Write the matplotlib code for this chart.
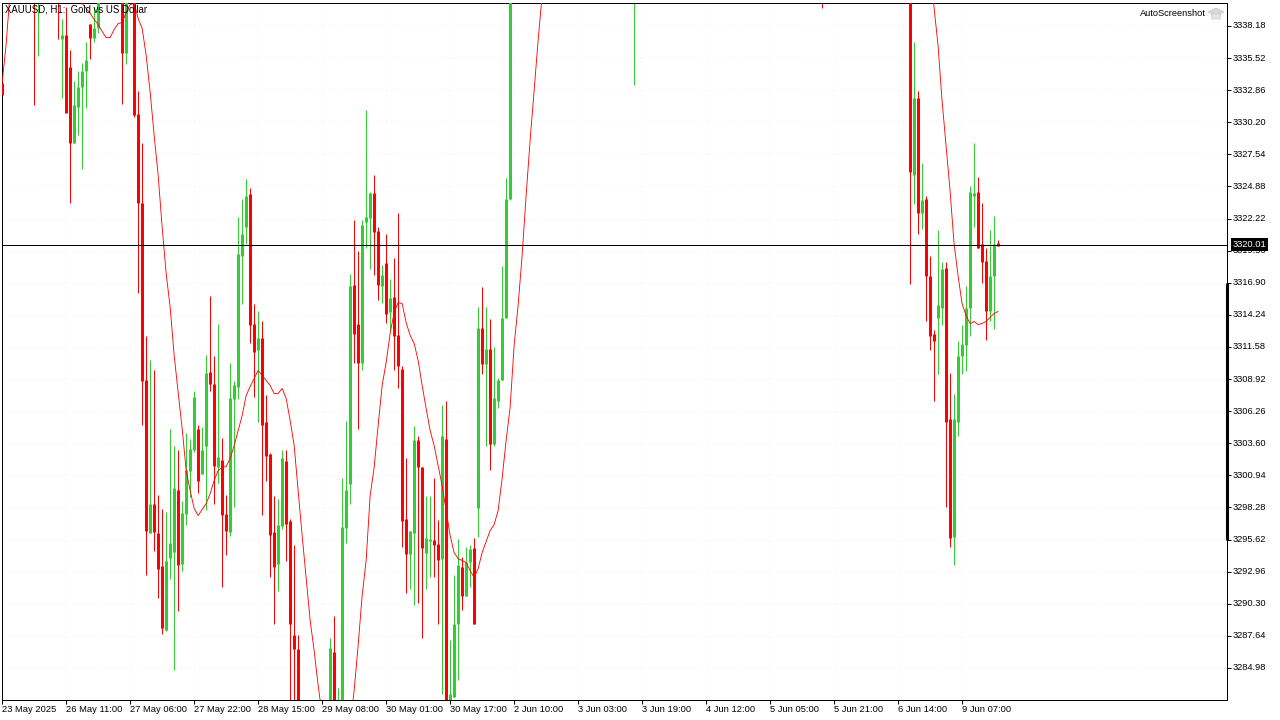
import matplotlib
matplotlib.use("Agg")
import matplotlib.pyplot as plt
from matplotlib.patches import Polygon
from matplotlib.transforms import ScaledTranslation

title_text = "XAUUSD, H1:  Gold vs US Dollar"
brand_text = "AutoScreenshot"
last_price = 3320.01

price_ticks = [3338.18, 3335.52, 3332.86, 3330.20, 3327.54, 3324.88, 3322.22, 3319.56, 3316.90, 3314.24,
               3311.58, 3308.92, 3306.26, 3303.60, 3300.94, 3298.28, 3295.62, 3292.96, 3290.30, 3287.64, 3284.98]
time_labels = ["23 May 2025", "26 May 11:00", "27 May 06:00", "27 May 22:00", "28 May 15:00", "29 May 08:00",
               "30 May 01:00", "30 May 17:00", "2 Jun 10:00", "3 Jun 03:00", "3 Jun 19:00", "4 Jun 12:00",
               "5 Jun 05:00", "5 Jun 21:00", "6 Jun 14:00", "9 Jun 07:00"]
bars_per_label = 16
scale_bar = [3316.90, 3295.62]

candle_index = [0, 8, 9, 14] + list(range(15, 25)) + [30, 31] + list(range(33, 75)) + list(range(82, 128)) + [158, 205] + list(range(227, 250))

opens = [3333.49, 3343, 3341, 3342,
  3337.14, 3337.39, 3334.82, 3328.52, 3331.50, 3333.16, 3334.41, 3338.38, 3337.22, 3337.97,
  3342, 3335.98,
  3342, 3330.92, 3323.55, 3308.80, 3296.20, 3298.60, 3296.20, 3293.46, 3288.16, 3294.12,
  3294.62, 3299.76, 3293.63, 3297.77, 3301.34, 3303.08, 3304.82, 3301.01, 3303.41, 3309.54,
  3308.47, 3301.59, 3302.25, 3297.77, 3296.28, 3307.23, 3308.30, 3319.08, 3321.56, 3324.22,
  3313.52, 3311.29, 3312.28, 3305.40, 3302.67, 3296.28, 3293.63, 3296.78, 3302.09, 3297.19,
  3287.75, 3286.59,
  3281, 3286.34, 3279.5, 3281, 3296.61, 3300.26, 3316.73, 3313.52, 3310.29, 3321.90,
  3322.23, 3324.30, 3321.15, 3316.65, 3318.50, 3314.44, 3315.76, 3312.54, 3309.79, 3297.36,
  3294.46, 3296.20, 3303.83, 3301.67, 3294.54, 3295.54, 3295.62, 3295.29, 3294.04, 3303.99,
  3280, 3282.61, 3288.58, 3293.38, 3290.90, 3293.79, 3294.96, 3298.27, 3313.11, 3310.13,
  3311.37, 3303.50, 3307.14, 3308.80, 3313.94, 3323.80,
  3342, 3343,
  3342, 3325.86, 3332.25, 3322.72, 3323.80, 3317.50, 3312.67, 3314.02, 3314.77, 3318.16,
  3305.65, 3295.87, 3305.40, 3310.87, 3311.70, 3314.77, 3324.13, 3324.46, 3320.07, 3318.74,
  3314.60, 3317.42, 3320.23]

closes = [3332.42, 3341, 3343, 3341,
  3337.39, 3331.00, 3328.52, 3331.59, 3333.16, 3334.41, 3335.32, 3337.22, 3337.97, 3341,
  3335.90, 3342,
  3330.84, 3323.47, 3308.72, 3296.36, 3298.60, 3296.28, 3293.21, 3288.33, 3293.88, 3295.37,
  3299.93, 3293.55, 3297.86, 3301.42, 3303.16, 3307.47, 3300.51, 3303.08, 3309.46, 3308.47,
  3301.75, 3302.42, 3297.69, 3296.36, 3307.31, 3308.39, 3319.32, 3320.90, 3324.13, 3313.36,
  3311.12, 3312.28, 3305.15, 3302.58, 3296.03, 3293.38, 3296.86, 3302.34, 3296.94, 3288.58,
  3286.59, 3280,
  3286.67, 3281, 3281, 3296.70, 3299.76, 3316.65, 3312.67, 3310.29, 3321.65, 3322.31,
  3324.30, 3321.07, 3316.73, 3317.58, 3314.27, 3315.60, 3312.45, 3310.04, 3297.19, 3294.46,
  3296.36, 3303.91, 3301.67, 3294.96, 3295.78, 3295.70, 3295.20, 3293.96, 3304.16, 3280,
  3282.78, 3288.66, 3293.55, 3290.90, 3293.72, 3294.87, 3288.66, 3313.11, 3310.13, 3311.37,
  3303.50, 3307.31, 3308.80, 3313.94, 3323.80, 3342,
  3343, 3342,
  3326.11, 3332.25, 3322.72, 3323.72, 3317.42, 3312.45, 3312.11, 3315.02, 3318.08, 3305.40,
  3295.78, 3305.57, 3310.87, 3311.79, 3314.77, 3324.46, 3324.30, 3319.74, 3318.58, 3314.52,
  3317.42, 3320.07, 3319.98]

highs = [3342, 3343.5, 3343.5, 3343,
  3338.72, 3339.71, 3336.15, 3333.58, 3334.41, 3335.07, 3336.89, 3338.38, 3339.79, 3344,
  3344, 3344,
  3344, 3332.75, 3328.44, 3312.45, 3310.46, 3309.63, 3299.35, 3298.19, 3297.94, 3304.74,
  3303.33, 3303.08, 3298.85, 3304.41, 3303.99, 3307.97, 3305.15, 3304.98, 3310.95, 3315.84,
  3310.87, 3313.52, 3304.07, 3299.35, 3310.29, 3308.72, 3322.39, 3323.80, 3325.46, 3324.79,
  3315.18, 3314.60, 3313.69, 3307.56, 3302.75, 3299.26, 3299.02, 3303.00, 3303.08, 3297.36,
  3295.20, 3287.75,
  3287.50, 3289.32, 3283.28, 3300.76, 3305.48, 3317.64, 3322.06, 3319.49, 3322.06, 3331.25,
  3324.46, 3325.79, 3321.48, 3318.33, 3320.98, 3317.25, 3318.91, 3322.72, 3309.96, 3302.34,
  3296.36, 3305.07, 3304.24, 3301.67, 3299.26, 3299.26, 3300.68, 3297.28, 3306.81, 3307.14,
  3287.33, 3292.72, 3295.70, 3294.21, 3295.04, 3295.20, 3295.78, 3314.93, 3316.57, 3314.93,
  3313.86, 3311.54, 3308.97, 3318.25, 3325.62, 3344,
  3344, 3344,
  3344, 3336.81, 3332.75, 3326.86, 3324.05, 3319.08, 3312.99, 3321.23, 3318.58, 3318.66,
  3309.38, 3307.64, 3312.04, 3313.44, 3316.59, 3324.88, 3328.44, 3325.70, 3323.47, 3319.74,
  3321.31, 3322.47, 3320.48]

lows = [3332.42, 3331.59, 3335.65, 3337.06,
  3332.17, 3331.09, 3323.47, 3328.52, 3329.18, 3326.36, 3331.42, 3335.48, 3336.81, 3337.56,
  3331.75, 3334.99,
  3330.67, 3316.01, 3305.15, 3292.64, 3296.20, 3294.71, 3290.81, 3287.83, 3288.00, 3292.31,
  3284.84, 3289.66, 3293.05, 3296.86, 3299.18, 3302.91, 3299.51, 3301.01, 3298.10, 3307.97,
  3298.60, 3300.34, 3291.65, 3294.37, 3295.95, 3298.35, 3307.23, 3315.18, 3320.15, 3311.87,
  3307.47, 3305.32, 3297.69, 3300.43, 3292.55, 3288.58, 3291.32, 3296.53, 3293.88, 3279,
  3279, 3279,
  3279, 3279, 3279, 3279, 3295.37, 3298.60, 3310.29, 3304.74, 3309.71, 3319.74,
  3318.08, 3317.58, 3315.51, 3315.26, 3313.60, 3312.87, 3309.63, 3308.14, 3295.03, 3291.23,
  3291.56, 3290.23, 3290.40, 3287.50, 3291.56, 3292.55, 3292.55, 3288.66, 3282.78, 3279,
  3279, 3282.61, 3284.02, 3289.74, 3290.90, 3291.65, 3288.66, 3295.87, 3309.30, 3303.33,
  3301.42, 3303.33, 3306.48, 3308.80, 3313.94, 3323.72,
  3333.25, 3339.63,
  3316.76, 3323.39, 3320.98, 3321.39, 3313.69, 3311.29, 3307.06, 3309.30, 3313.36, 3298.35,
  3295.03, 3293.55, 3304.24, 3309.30, 3309.55, 3312.45, 3321.56, 3319.74, 3316.85, 3312.12,
  3313.69, 3313.03, 3319.98]

ma_index = [0, 1, 2, 3, 18] + list(range(19, 137)) + list(range(232, 250))
ma_values = [3333.49, 3336.73, 3341.10, 3341.50, 3341.50,
  3340.40, 3340.04, 3339.63, 3339.21, 3338.72, 3338.30, 3337.72, 3337.22, 3337.22, 3337.89,
  3338.38, 3338.47, 3339.30, 3339.96, 3340.04, 3338.80, 3337.97, 3335.73, 3332.67, 3329.10,
  3325.79, 3321.48, 3317.66, 3314.85, 3310.87, 3307.80, 3304.82, 3301.34, 3299.68, 3298.19,
  3297.61, 3298.10, 3298.60, 3299.43, 3300.51, 3301.34, 3301.59, 3301.67, 3302.34, 3303.41,
  3304.66, 3305.90, 3307.56, 3308.30, 3308.97, 3309.63, 3309.22, 3308.80, 3308.39, 3307.72,
  3307.72, 3308.14, 3307.31, 3305.48, 3303.41, 3299.68, 3295.95, 3292.39, 3288.91, 3286.42,
  3283.53, 3281.04, 3279, 3279, 3279, 3279, 3279, 3279, 3280.20, 3283.11,
  3286.84, 3290.98, 3293.88, 3299.26, 3301.59, 3305.07, 3308.39, 3310.29, 3312.70, 3314.44,
  3315.26, 3315.18, 3313.60, 3312.54, 3311.87, 3310.46, 3308.39, 3306.48, 3304.66, 3303.41,
  3301.75, 3300.09, 3298.02, 3295.95, 3294.54, 3294.04, 3293.88, 3293.72, 3293.05, 3292.47,
  3293.21, 3294.54, 3295.45, 3296.36, 3296.86, 3298.02, 3300.68, 3303.83, 3306.56, 3311.70,
  3315.02, 3319.16, 3324.13, 3328.69, 3332.83, 3336.98, 3340.70, 3343,
  3343, 3339.71, 3336.56, 3332.00, 3328.27, 3324.55, 3320.15, 3317.50, 3315.18, 3314.19,
  3313.52, 3313.69, 3313.44, 3313.52, 3313.69, 3314.02, 3314.35, 3314.52]

UP = "#32CD32"
DOWN = "#FF0000"
FONT = "Liberation Sans"
W, H = 1280, 720

fig = plt.figure(figsize=(W / 100, H / 100), dpi=100, facecolor="white")
L, R, T, B = 2.2, 1227.2, 3.0, 700.0
ax = fig.add_axes([L / W, 1 - B / H, (R - L) / W, (B - T) / H])
ax.set_facecolor("white")
ax.set_xlim((L - 2) / 4, (R - 2) / 4)
ax.set_ylim(3340.29 - 0.08287 * (B - 0.5), 3340.29 - 0.08287 * (T - 0.5))

colors = [UP if c >= o else DOWN for o, c in zip(opens, closes)]
body_top = [max(o, c) for o, c in zip(opens, closes)]
body_bot = [min(o, c) for o, c in zip(opens, closes)]
ax.vlines(candle_index, lows, highs, colors=colors, lw=0.72, zorder=2, snap=True, capstyle="butt")
ax.vlines(candle_index, body_bot, body_top, colors=colors, lw=2.16, zorder=3, snap=True, capstyle="butt")

ax.plot(ma_index, ma_values, color=DOWN, lw=0.62, zorder=4)
ax.axhline(last_price, color="black", lw=0.72, zorder=5)

tick_pos = [k * bars_per_label for k in range(len(time_labels))]
ax.set_xticks(tick_pos)
ax.set_xticklabels(time_labels, ha="left", fontsize=6.75, family=FONT, color="black")
ax.set_yticks(price_ticks)
ax.set_yticklabels([f"{p:.2f}" for p in price_ticks], fontsize=6.7, family=FONT, color="black")
ax.yaxis.tick_right()
ax.tick_params(axis="x", length=3, width=0.72, pad=0.8)
ax.tick_params(axis="y", length=3, width=0.72, pad=1)
up_one_px = ScaledTranslation(0, 1 / 100, fig.dpi_scale_trans)
for lbl in ax.get_yticklabels():
    lbl.set_transform(lbl.get_transform() + up_one_px)
ax.grid(True, color="#f4f4f4", lw=0.6, ls=(0, (2, 3)), zorder=0)
ax.set_axisbelow(True)
for s in ax.spines.values():
    s.set_linewidth(0.72)
    s.set_color("black")

tr = ax.get_yaxis_transform()
ax.plot([1, 1], scale_bar, color="black", lw=2.2, transform=tr, clip_on=False, solid_capstyle="butt", zorder=6)

fig.text(5 / W, 1 - 9 / H, title_text, fontsize=6.95, family=FONT, ha="left", va="center", color="black", zorder=10)
fig.text(1140 / W, 1 - 14 / H, brand_text, fontsize=6.65, family=FONT, ha="left", va="center", color="black", zorder=10)
fig.text(1249.5 / W, 1 - 244.5 / H, f"{last_price:.2f}", fontsize=6.7, family=FONT, ha="center", va="center", color="white",
         zorder=11, bbox=dict(boxstyle="square,pad=0.2", fc="black", ec="black", lw=0))

def px(pts):
    return [(x / W, 1 - y / H) for x, y in pts]
fig.add_artist(Polygon(px([(1208, 12), (1216, 8), (1224, 12), (1216, 15)]), closed=True, fc="#d8d8d8", ec="#c0c0c0", lw=0.5))
fig.add_artist(Polygon(px([(1211, 14), (1221, 14), (1220, 19), (1212, 19)]), closed=True, fc="#e4e4e4", ec="#c8c8c8", lw=0.5))

fig.savefig("out.png", dpi=100)
